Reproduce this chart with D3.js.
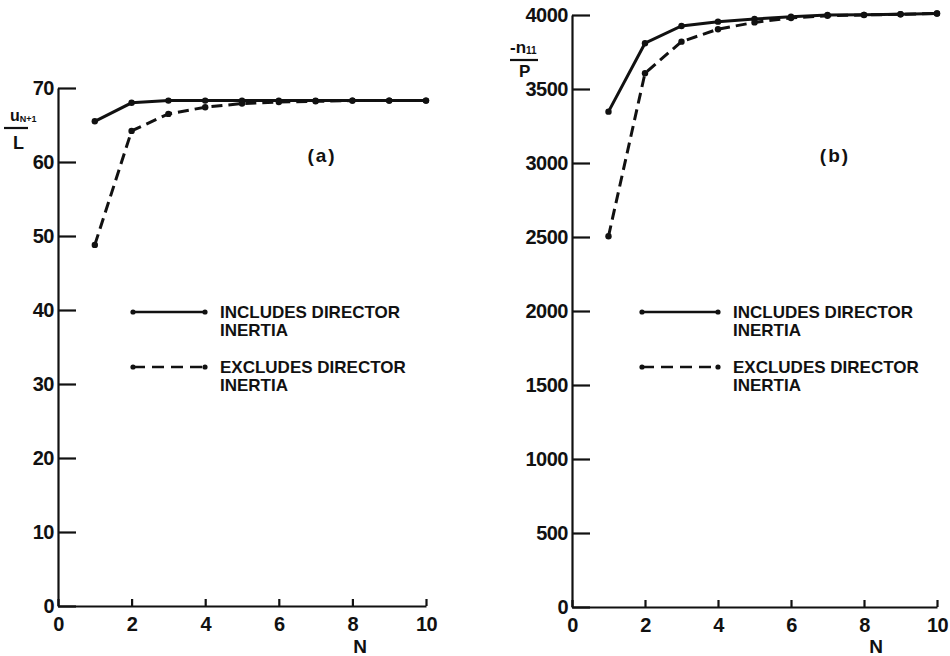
<!DOCTYPE html>
<html>
<head>
<meta charset="utf-8">
<script src="https://cdn.jsdelivr.net/npm/d3@7"></script>
<style>
  html, body { margin: 0; padding: 0; background: #fff; }
  svg { display: block; }
  text { font-family: "Liberation Sans", Arial, sans-serif; font-weight: bold; fill: #111; }
</style>
</head>
<body>
<svg id="chart" width="950" height="656"></svg>
<script>
// ---- data ----
const N = [1, 2, 3, 4, 5, 6, 7, 8, 9, 10];
const aIncludes = [65.5, 68.0, 68.3, 68.3, 68.3, 68.3, 68.3, 68.3, 68.3, 68.3];
const aExcludes = [48.8, 64.2, 66.5, 67.4, 67.9, 68.1, 68.2, 68.3, 68.3, 68.3];
const bIncludes = [3347, 3809, 3926, 3955, 3973, 3988, 4000, 4001, 4005, 4010];
const bExcludes = [2505, 3607, 3820, 3904, 3950, 3980, 3995, 4000, 4005, 4010];
const xTicks = [0, 2, 4, 6, 8, 10];
const aYTicks = [0, 10, 20, 30, 40, 50, 60, 70];
const bYTicks = [0, 500, 1000, 1500, 2000, 2500, 3000, 3500, 4000];
const legendLabels = [["INCLUDES DIRECTOR", "INERTIA"], ["EXCLUDES DIRECTOR", "INERTIA"]];
const panelLabels = ["(a)", "(b)"];

const svg = d3.select("#chart");
const ink = "#111";

const panels = [
  { inc: aIncludes, exc: aExcludes, yTicks: aYTicks, yDomain: [0, 70],
    xRange: [58, 426], yRange: [606, 88], label: panelLabels[0], labelPos: [322, 162],
    legendX: [133, 205], legendTextX: 220, nPos: [360, 653] },
  { inc: bIncludes, exc: bExcludes, yTicks: bYTicks, yDomain: [0, 4000],
    xRange: [572, 937], yRange: [607, 15], label: panelLabels[1], labelPos: [835, 162],
    legendX: [642, 718], legendTextX: 733, nPos: [876, 653] }
];

panels.forEach((p, i) => {
  const x = d3.scaleLinear().domain([0, 10]).range(p.xRange);
  const y = d3.scaleLinear().domain(p.yDomain).range(p.yRange);
  const g = svg.append("g");

  // y axis
  const ya = g.append("g").attr("transform", `translate(${p.xRange[0]},0)`)
    .call(d3.axisLeft(y).tickValues(p.yTicks).tickFormat(d3.format("d"))
      .tickSize(-18).tickSizeOuter(0).tickPadding(4));
  // x axis
  const xa = g.append("g").attr("transform", `translate(0,${p.yRange[0]})`)
    .call(d3.axisBottom(x).tickValues(xTicks).tickFormat(d3.format("d"))
      .tickSize(-7).tickSizeOuter(0).tickPadding(11));
  [ya, xa].forEach(a => {
    a.attr("font-family", null).attr("font-size", null);
    a.selectAll("path, line").attr("stroke", ink).attr("stroke-width", 2.2);
    a.selectAll("text").style("font-size", "20px").style("letter-spacing", "-0.5px").attr("fill", ink);
  });

  const line = d3.line().x((d, k) => x(N[k])).y(d => y(d));

  // series
  g.append("path").datum(p.inc).attr("d", line)
    .attr("fill", "none").attr("stroke", ink).attr("stroke-width", 3);
  g.append("path").datum(p.exc).attr("d", line)
    .attr("fill", "none").attr("stroke", ink).attr("stroke-width", 3).attr("stroke-dasharray", "11,6");
  [p.inc, p.exc].forEach(s => {
    g.selectAll(null).data(s).join("circle")
      .attr("cx", (d, k) => x(N[k])).attr("cy", d => y(d)).attr("r", 3.2).attr("fill", ink);
  });

  // legend
  const ly = [312, 367];
  ly.forEach((yy, k) => {
    g.append("line").attr("x1", p.legendX[0]).attr("x2", p.legendX[1]).attr("y1", yy).attr("y2", yy)
      .attr("stroke", ink).attr("stroke-width", 2.6)
      .attr("stroke-dasharray", k === 1 ? "12,7" : null);
    g.append("circle").attr("cx", p.legendX[0]).attr("cy", yy).attr("r", 2.6).attr("fill", ink);
    g.append("circle").attr("cx", p.legendX[1]).attr("cy", yy).attr("r", 2.6).attr("fill", ink);
    legendLabels[k].forEach((t, m) => {
      g.append("text").attr("x", p.legendTextX).attr("y", yy + 6 + m * 18)
        .style("font-size", "17px").style("letter-spacing", "0px").text(t);
    });
  });

  // panel label
  g.append("text").attr("x", p.labelPos[0]).attr("y", p.labelPos[1]).attr("text-anchor", "middle")
    .style("font-size", "19px").style("letter-spacing", "2px").text(p.label);
  // N label
  g.append("text").attr("x", p.nPos[0]).attr("y", p.nPos[1]).attr("text-anchor", "middle")
    .style("font-size", "19px").text("N");
});

// y-axis titles (fractions)
const t1 = svg.append("g");
const u = t1.append("text").attr("x", 10).attr("y", 121).style("font-size", "16px");
u.append("tspan").text("u");
u.append("tspan").attr("dy", 1).style("font-size", "9px").text("N+1");
t1.append("line").attr("x1", 4).attr("x2", 28).attr("y1", 128).attr("y2", 128).attr("stroke", ink).attr("stroke-width", 2.2);
t1.append("text").attr("x", 13).attr("y", 149).style("font-size", "18px").text("L");

const t2 = svg.append("g");
const n = t2.append("text").attr("x", 510).attr("y", 53).style("font-size", "17px");
n.append("tspan").text("-n");
n.append("tspan").attr("dy", 1).style("font-size", "10px").text("11");
t2.append("line").attr("x1", 510).attr("x2", 538).attr("y1", 60).attr("y2", 60).attr("stroke", ink).attr("stroke-width", 2.2);
t2.append("text").attr("x", 519).attr("y", 77).style("font-size", "17px").text("P");
</script>
</body>
</html>
